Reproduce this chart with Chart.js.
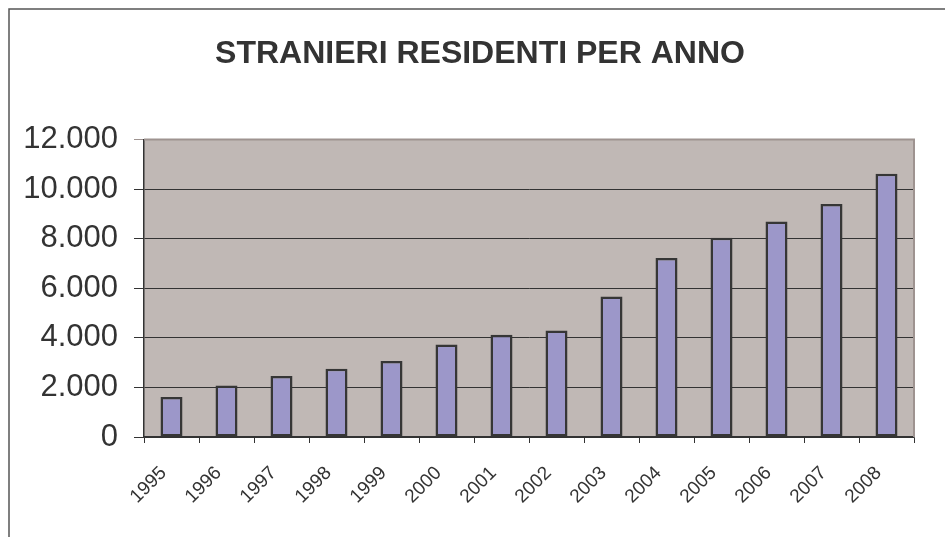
<!DOCTYPE html>
<html>
<head>
<meta charset="utf-8">
<script src="https://cdn.jsdelivr.net/npm/chart.js@4/dist/chart.umd.min.js"></script>
<style>
  html, body { margin: 0; padding: 0; background: #ffffff; }
  #wrap { width: 945px; height: 537px; position: relative; }
</style>
</head>
<body>
<div id="wrap"><canvas id="c" width="945" height="537"></canvas></div>
<script>
const titleText = 'STRANIERI RESIDENTI PER ANNO';
const years = ['1995','1996','1997','1998','1999','2000','2001','2002','2003','2004','2005','2006','2007','2008'];
const residents = [1610, 2080, 2460, 2750, 3060, 3730, 4120, 4290, 5670, 7220, 8030, 8690, 9400, 10610];
const yMin = 0;
const yMax = 12000;
const yStep = 2000;

const FONT = "'Liberation Sans', Arial, Helvetica, sans-serif";
const TEXT = '#333333';

function fmt(v) {
  return String(v).replace(/\B(?=(\d{3})+(?!\d))/g, '.');
}

const backdrop = {
  id: 'backdrop',
  beforeDraw(chart) {
    const ctx = chart.ctx;
    const a = chart.chartArea;
    ctx.save();
    ctx.strokeStyle = '#555555';
    ctx.lineWidth = 1.5;
    ctx.beginPath();
    ctx.moveTo(9, 537);
    ctx.lineTo(9, 9);
    ctx.lineTo(945, 9);
    ctx.stroke();
    ctx.fillStyle = '#c0b8b5';
    ctx.fillRect(a.left, a.top, a.right - a.left, a.bottom - a.top);
    ctx.restore();
  },
  beforeDatasetsDraw(chart) {
    const ctx = chart.ctx;
    const a = chart.chartArea;
    ctx.save();
    ctx.strokeStyle = '#9e9390';
    ctx.lineWidth = 2;
    ctx.beginPath();
    ctx.moveTo(a.left, a.top);
    ctx.lineTo(a.right, a.top);
    ctx.lineTo(a.right, a.bottom);
    ctx.stroke();
    ctx.restore();
  }
};

new Chart(document.getElementById('c'), {
  type: 'bar',
  data: {
    labels: years,
    datasets: [{
      label: 'Stranieri residenti',
      data: residents,
      backgroundColor: '#9c97c9',
      borderColor: '#363636',
      borderWidth: 2.5,
      borderSkipped: false,
      barPercentage: 0.4,
      categoryPercentage: 1.0
    }]
  },
  options: {
    responsive: false,
    animation: false,
    layout: { padding: { left: 15, right: 0, top: 0, bottom: 0 } },
    plugins: {
      legend: { display: false },
      tooltip: { enabled: false },
      title: {
        display: true,
        text: titleText,
        color: TEXT,
        font: { family: FONT, size: 32, weight: 'bold', lineHeight: 1.2 },
        padding: { top: 35, bottom: 66 }
      }
    },
    scales: {
      x: {
        offset: true,
        grid: { display: true, drawOnChartArea: false, drawTicks: true, tickLength: 6, color: '#333333', lineWidth: 1 },
        border: { display: true, color: '#333333', width: 1.5 },
        ticks: {
          color: TEXT,
          font: { family: FONT, size: 19 },
          minRotation: 45,
          maxRotation: 45,
          autoSkip: false,
          padding: 19,
          labelOffset: -8
        },
        afterFit(s) { s.height = 100; }
      },
      y: {
        min: yMin,
        max: yMax,
        ticks: {
          stepSize: yStep,
          color: TEXT,
          font: { family: FONT, size: 31 },
          padding: 16,
          callback: (v) => fmt(v)
        },
        grid: {
          color: (c) => (c.tick && c.tick.value === yMax) ? '#9e9390' : '#333333',
          lineWidth: 1,
          tickLength: 10,
          drawTicks: true
        },
        border: { display: true, color: '#333333', width: 1.5 },
        afterFit(s) { s.width = 129; }
      },
      yR: {
        type: 'linear',
        position: 'right',
        display: true,
        grid: { display: false, drawTicks: false },
        border: { display: false },
        ticks: { display: false },
        afterFit(s) { s.width = 31; }
      }
    }
  },
  plugins: [backdrop]
});
</script>
</body>
</html>
